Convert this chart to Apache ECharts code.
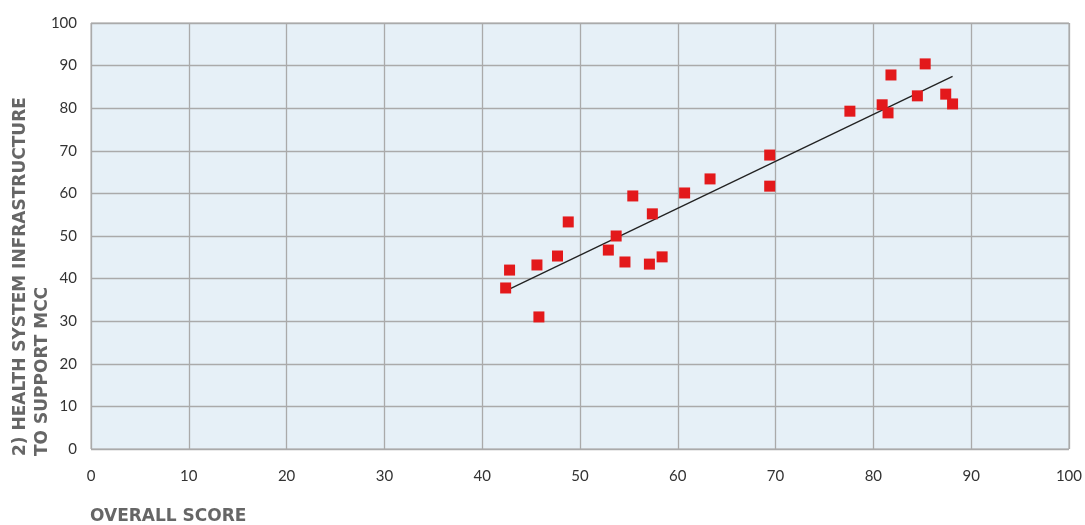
<!DOCTYPE html>
<html><head><meta charset="utf-8">
<script src="https://cdn.jsdelivr.net/npm/echarts@6/dist/echarts.min.js"></script>
<style>html,body{margin:0;padding:0;background:#fff}#c{width:1085px;height:525px}</style>
</head><body><div id="c"></div>
<script>
const overallScore = [42.4,42.8,45.6,45.8,47.7,48.8,52.9,53.7,54.6,55.4,57.4,57.1,58.4,60.7,63.3,69.4,69.4,77.6,80.9,81.5,81.8,84.5,85.3,87.4,88.1];
const healthInfra = [37.8,42.0,43.2,31.0,45.3,53.3,46.7,50.0,43.9,59.4,55.2,43.4,45.1,60.1,63.4,69.0,61.7,79.3,80.8,78.9,87.8,82.9,90.4,83.3,81.0];
const xTitle = 'OVERALL SCORE';
const yTitle = '2) HEALTH SYSTEM INFRASTRUCTURE\nTO SUPPORT MCC';

const pts = overallScore.map((x,i)=>[x,healthInfra[i]]);
// least squares trend line
const n = pts.length;
const mx = overallScore.reduce((a,b)=>a+b,0)/n, my = healthInfra.reduce((a,b)=>a+b,0)/n;
let sxy=0,sxx=0; pts.forEach(p=>{sxy+=(p[0]-mx)*(p[1]-my); sxx+=(p[0]-mx)**2;});
const slope = sxy/sxx, icpt = my - slope*mx;
const xmin = Math.min(...overallScore), xmax = Math.max(...overallScore);
const trend = [[xmin, icpt+slope*xmin],[xmax, icpt+slope*xmax]];

const chart = echarts.init(document.getElementById('c'));
const axisLbl = {fontSize:15, color:'#333', fontFamily:'Lato'};
chart.setOption({
  animation:false,
  grid:{left:91,right:16,top:23,bottom:76,show:true,backgroundColor:'#e6f0f7',borderColor:'#aaa',borderWidth:1},
  xAxis:{type:'value',min:0,max:100,interval:10,
    axisLine:{show:false},axisTick:{show:false},
    splitLine:{lineStyle:{color:'#aaa',width:1.3}},
    axisLabel:Object.assign({margin:20},axisLbl)},
  yAxis:{type:'value',min:0,max:100,interval:10,
    axisLine:{show:false},axisTick:{show:false},
    splitLine:{lineStyle:{color:'#aaa',width:1.3}},
    axisLabel:Object.assign({margin:14},axisLbl)},
  graphic:[
    {type:'text',left:90,top:508,style:{text:xTitle,fontFamily:'DejaVu Sans',fontWeight:'bold',fontSize:17,fill:'#666'}},
    {type:'text',x:10,y:456,rotation:Math.PI/2,style:{text:yTitle,fontFamily:'DejaVu Sans',fontWeight:'bold',fontSize:17,fill:'#666',align:'left',verticalAlign:'top',lineHeight:22}}
  ],
  series:[
    {type:'line',data:trend,symbol:'none',lineStyle:{color:'#222',width:1.3},z:3},
    {type:'scatter',data:pts,symbol:'rect',symbolSize:11,itemStyle:{color:'#e3191b',opacity:1},z:4}
  ]
});
</script></body></html>
